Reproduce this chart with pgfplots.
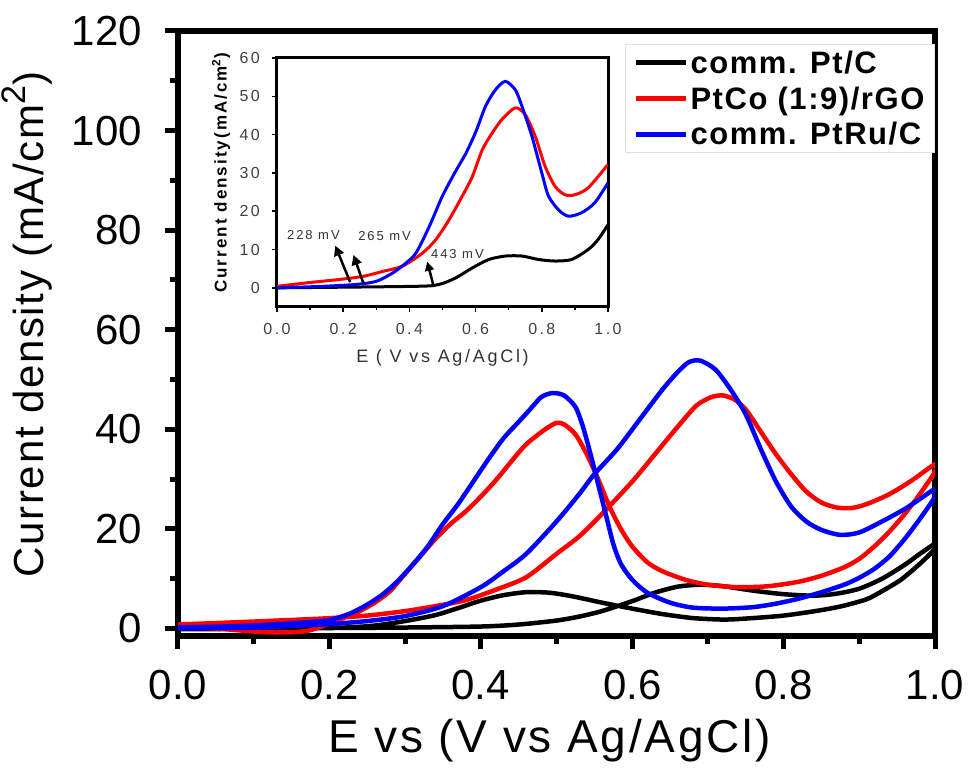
\documentclass[border=0pt]{standalone}
\usepackage{fontspec}
\setmainfont{Liberation Sans}
\newfontfamily\xtfont[LetterSpace=6]{Liberation Sans}
\newfontfamily\ytfont[LetterSpace=4]{Liberation Sans}
\newfontfamily\legfont[LetterSpace=5]{Liberation Sans}
\newfontfamily\insfont[LetterSpace=15]{Liberation Sans}
\newfontfamily\inslab[LetterSpace=12]{Liberation Sans}
\usepackage{pgfplots}
\pgfplotsset{compat=1.18}
\usetikzlibrary{arrows.meta}

\pgfplotstableread{
x y
0 0
0.1 0
0.2 0.1
0.3 0.2
0.4 0.4
0.45 0.8
0.5 1.6
0.53 2.4
0.56 3.5
0.6 5.5
0.63 7.2
0.66 8.4
0.69 8.8
0.72 8.5
0.76 7.6
0.80 6.9
0.84 6.6
0.87 7.0
0.90 8.0
0.93 10.0
0.96 12.8
0.98 15.0
1.0 17.0
1.0 16.0
0.98 13.0
0.955 9.8
0.93 7.5
0.91 5.9
0.88 4.6
0.85 3.7
0.80 2.6
0.75 2.0
0.72 1.8
0.68 2.1
0.64 2.9
0.60 4.0
0.56 5.2
0.52 6.5
0.49 7.2
0.46 7.3
0.43 6.7
0.40 5.6
0.37 4.1
0.34 2.7
0.30 1.5
0.26 0.6
0.22 0.2
0.15 0.0
0.05 -0.1
0 -0.1
}\ptc

\pgfplotstableread{
x y
0 0.8
0.1 1.4
0.19 2.0
0.25 2.6
0.30 3.5
0.34 4.5
0.38 5.7
0.42 7.8
0.46 10.3
0.50 15
0.53 18.5
0.56 23
0.60 29.5
0.63 35
0.66 40.5
0.685 44.8
0.705 46.5
0.72 46.8
0.735 46
0.75 44
0.77 39.5
0.79 35
0.81 31
0.83 27.5
0.85 25.3
0.87 24.3
0.89 24.2
0.91 25
0.94 27
0.97 29.8
1.0 33
1.0 31.5
0.98 27
0.96 23
0.94 19.5
0.92 16.5
0.90 14
0.88 12.3
0.85 10.6
0.82 9.4
0.78 8.5
0.74 8.3
0.70 8.8
0.67 9.8
0.64 11.5
0.62 13.3
0.60 16.5
0.585 20
0.57 24.5
0.555 30
0.54 35
0.525 39
0.51 41
0.50 41.3
0.485 40
0.46 37
0.44 33.5
0.42 29.8
0.40 26.5
0.38 23.5
0.36 21
0.34 18
0.32 14.5
0.30 11
0.28 7.5
0.26 5.2
0.24 3.5
0.22 2.2
0.20 1.0
0.17 -0.5
0.13 -0.8
0.10 -0.6
0.05 0
0 0.3
}\ptco

\pgfplotstableread{
x y
0 0
0.1 0.2
0.19 0.8
0.25 1.5
0.30 2.5
0.35 4.5
0.40 8.3
0.43 11.5
0.46 15.0
0.50 21.5
0.53 27
0.55 31
0.58 36
0.61 42
0.64 48
0.66 51.5
0.675 53.5
0.69 53.8
0.71 52
0.73 48
0.75 43
0.77 36
0.79 29.5
0.81 24.5
0.83 21.5
0.85 19.8
0.875 18.8
0.90 19.3
0.93 21.5
0.96 24
0.98 26
1.0 28
1.0 26.5
0.98 22
0.96 18
0.94 14.5
0.92 12
0.90 10.2
0.88 8.8
0.85 7.3
0.82 6.0
0.79 5.0
0.76 4.3
0.72 4.0
0.68 4.2
0.65 5.2
0.62 7.2
0.60 9.8
0.585 13
0.575 17
0.565 23
0.555 29
0.545 35
0.535 40.5
0.525 44.5
0.51 46.8
0.495 47.3
0.48 46.5
0.465 44
0.45 41.5
0.43 38.2
0.41 34
0.39 29.5
0.37 25
0.35 21
0.33 16.5
0.31 12.8
0.29 9.5
0.27 6.8
0.25 4.8
0.23 3.2
0.21 2.1
0.19 1.5
0.1 0.6
0 0.2
}\ptru

\pgfplotstableread{
x y
0 0
0.14 0.4
0.24 0.9
0.30 1.7
0.35 3.9
0.39 6.5
0.42 9.1
0.46 16
0.50 24
0.54 30.5
0.57 35
0.60 40.6
0.63 47.4
0.66 51.7
0.69 53.9
0.72 51.7
0.74 47.4
0.77 39.6
0.80 30
0.82 24
0.85 20.4
0.88 18.7
0.92 19.6
0.96 22.2
1.0 27.4
}\insru

\pgfplotstableread{
x y
0 0.4
0.09 1.3
0.19 2.2
0.26 3.0
0.32 4.3
0.38 5.7
0.44 9.1
0.48 12.6
0.52 17.8
0.56 24
0.59 29
0.62 36
0.65 40.4
0.68 44
0.72 47
0.75 45.2
0.78 39.6
0.81 31.7
0.84 26.5
0.87 24.3
0.90 24.3
0.94 26.1
1.0 32.2
}\insco

\pgfplotstableread{
x y
0 0
0.42 0.4
0.49 0.9
0.54 2.6
0.59 5.2
0.64 7.4
0.69 8.3
0.74 8.3
0.79 7.4
0.84 7.0
0.89 7.4
0.94 10
0.97 12.6
1.0 16.5
}\inspt

\begin{document}
\begin{tikzpicture}
\path[use as bounding box] (-178pt,-134pt) rectangle (792pt,636pt);
\begin{axis}[
  at={(0pt,0pt)}, anchor=south west,
  scale only axis, width=757pt, height=605pt,
  xmin=0, xmax=1, ymin=-1.5, ymax=120,
  xtick={0,0.2,0.4,0.6,0.8,1.0},
  xticklabels={0.0,0.2,0.4,0.6,0.8,1.0},
  minor xtick={0.1,0.3,0.5,0.7,0.9},
  ytick={0,20,40,60,80,100,120},
  yticklabels={0,20,40,60,80,100,120},
  minor ytick={10,30,50,70,90,110},
  xtick pos=left, ytick pos=left,
  tick align=outside,
  major tick length=13pt, minor tick length=8pt,
  every tick/.style={black, line width=5pt},
  axis line style={line width=6pt, line cap=rect},
  /pgf/number format/assume math mode=true,
  xticklabel style={font=\fontsize{42}{48}\selectfont, anchor=base, inner sep=0pt, yshift=-51pt},
  yticklabel style={font=\fontsize{42}{48}\selectfont, anchor=east, inner sep=0pt, xshift=-23pt},
  xlabel={E vs (V vs Ag/AgCl)},
  ylabel={Current density (mA/cm\raisebox{0.42em}{\fontsize{34}{38}\selectfont 2})},
  xlabel style={at={(axis description cs:0.491,-0.193)}, anchor=base, inner sep=0pt, font=\xtfont\fontsize{46}{52}\selectfont},
  ylabel style={at={(axis description cs:-0.178,0.515)}, anchor=base, inner sep=0pt, font=\ytfont\fontsize{42}{50}\selectfont},
  legend style={at={(axis description cs:1,1)}, anchor=north east, yshift=-13pt,
    draw=gray!25, line width=1.2pt, fill=white,
    font=\legfont\bfseries\fontsize{31}{37}\selectfont,
    inner xsep=8pt, inner ysep=4pt, row sep=8pt, cells={anchor=west}},
  legend image code/.code={\draw[#1, line width=5pt] (0pt,0pt) -- (50pt,0pt);},
  every axis plot/.append style={line width=4.5pt, line join=round, smooth, tension=0.45},
]
\addplot[black] table[x=x,y=y] {\ptc};
\addlegendentry{comm. Pt/C}
\addplot[red] table[x=x,y=y] {\ptco};
\addlegendentry{PtCo (1:9)/rGO}
\addplot[blue] table[x=x,y=y] {\ptru};
\addlegendentry{comm. PtRu/C}
\end{axis}

\begin{axis}[
  at={(99pt,329pt)}, anchor=south west,
  scale only axis, width=331pt, height=249pt,
  xmin=0, xmax=1, ymin=-5, ymax=60,
  axis background/.style={fill=white},
  xtick={0,0.2,0.4,0.6,0.8,1.0},
  xticklabels={0.0,0.2,0.4,0.6,0.8,1.0},
  minor xtick={0.1,0.3,0.5,0.7,0.9},
  ytick={0,10,20,30,40,50,60},
  yticklabels={0,10,20,30,40,50,60},
  xtick pos=left, ytick pos=left,
  tick align=outside,
  major tick length=5pt, minor tick length=3pt,
  every tick/.style={black, line width=1.5pt},
  axis line style={line width=3pt, line cap=rect},
  /pgf/number format/assume math mode=true,
  xticklabel style={font=\insfont\fontsize{16}{18}\selectfont, text=black!75, anchor=base, inner sep=0pt, yshift=-23pt},
  yticklabel style={font=\insfont\fontsize{16}{18}\selectfont, text=black!75, anchor=east, inner sep=0pt, xshift=-12pt},
  xlabel={E ( V vs Ag/AgCl)},
  ylabel={Current density(mA/cm\textsuperscript{2})},
  xlabel style={at={(axis description cs:0.5,-0.221)}, anchor=base, inner sep=0pt, text=black!80, font=\insfont\fontsize{18}{20}\selectfont},
  ylabel style={at={(axis description cs:-0.152,0.538)}, anchor=base, inner sep=0pt, font=\inslab\bfseries\fontsize{17}{20}\selectfont},
  every axis plot/.append style={line width=3pt, line join=round, smooth, tension=0.45},
]
\addplot[black] table[x=x,y=y] {\inspt};
\addplot[red] table[x=x,y=y] {\insco};
\addplot[blue] table[x=x,y=y] {\insru};
\node[font=\insfont\fontsize{13}{15}\selectfont, text=black!80] at (axis cs:0.11,13.9) {228 mV};
\node[font=\insfont\fontsize{13}{15}\selectfont, text=black!80] at (axis cs:0.325,13.5) {265 mV};
\node[font=\insfont\fontsize{13}{15}\selectfont, text=black!80] at (axis cs:0.545,8.7) {443 mV};
\draw[line width=2.5pt, -{Triangle[length=10pt,width=10pt]}] (axis cs:0.221,1.5) -- (axis cs:0.176,11);
\draw[line width=2.5pt, -{Triangle[length=10pt,width=10pt]}] (axis cs:0.261,1.2) -- (axis cs:0.231,8.6);
\draw[line width=2.5pt, -{Triangle[length=9pt,width=9pt]}] (axis cs:0.472,0.8) -- (axis cs:0.454,6.8);
\end{axis}
\end{tikzpicture}
\end{document}
